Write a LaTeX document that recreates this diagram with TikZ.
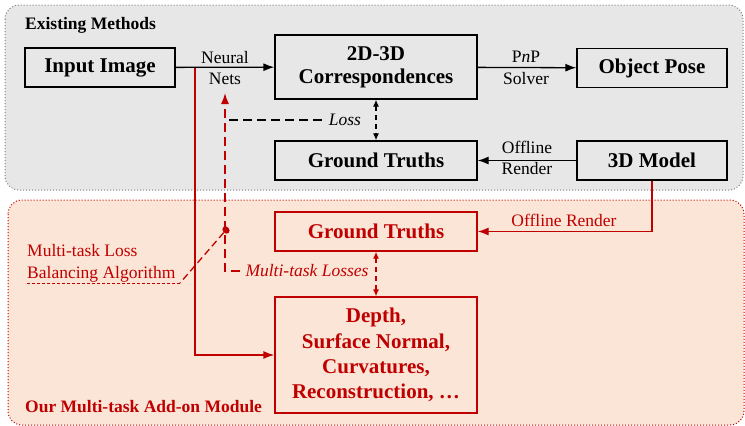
\documentclass[tikz,border=0pt]{standalone}
\usepackage{fontspec}
\setmainfont{Liberation Serif}
\usetikzlibrary{arrows.meta,calc,shapes.geometric}
\definecolor{myred}{HTML}{C00000}
\definecolor{panelgray}{HTML}{E7E7E7}
\definecolor{panelpeach}{HTML}{FBE5D6}
\tikzset{
  box/.style={draw, line width=1.3pt, minimum width=150pt, minimum height=39pt, inner sep=0pt,
    font=\fontsize{21}{23}\selectfont\bfseries, align=center},
  wbox/.style={box, minimum width=202pt},
  rbox/.style={wbox, draw=myred, text=myred},
  lbl/.style={font=\fontsize{17.5}{21.5}\selectfont, align=center, inner sep=0pt},
  arr/.style={-{Latex[length=11pt,width=8pt]}, line width=1.3pt},
  darr/.style={{Latex[length=7pt,width=6pt]}-{Latex[length=7pt,width=6pt]}, line width=1.3pt, dash pattern=on 5pt off 4pt},
  dsh/.style={line width=1.3pt, dash pattern=on 9pt off 5pt},
  panel/.style={rounded corners=14pt, line width=1pt, dotted},
}
\begin{document}
\begin{tikzpicture}[x=1pt,y=-1pt]
\useasboundingbox (0,0) rectangle (745,426);
% panels
\draw[panel, fill=panelgray, draw=gray] (5,5) rectangle (743,190);
\draw[panel, fill=panelpeach, draw=myred] (8,200) rectangle (744,425);
\node[anchor=west, font=\fontsize{17.5}{21}\selectfont\bfseries, inner sep=0pt] (t1) at (25,25) {Existing Methods};
\node[anchor=west, font=\fontsize{17.5}{21}\selectfont\bfseries, inner sep=0pt, text=myred] (t2) at (25,407) {Our Multi-task Add-on Module};
% top boxes
\node[box] (inp) at (100,67.5) {Input Image};
\node[wbox, minimum height=64pt] (corr) at (376,67) {2D-3D\\Correspondences};
\node[box] (pose) at (652,68) {Object Pose};
\node[wbox] (gt1) at (376,160.5) {Ground Truths};
\node[box] (model) at (652,160.5) {3D Model};
% bottom boxes
\node[rbox] (gt2) at (376,231.5) {Ground Truths};
\node[rbox, minimum height=116pt, font=\fontsize{21}{25.3}\selectfont\bfseries] (depth) at (376,355) {Depth,\\Surface Normal,\\Curvatures,\\Reconstruction, …};
% labels
\node[lbl] (nn) at (225,68) {Neural\\Nets};
\node[lbl] (pnp) at (526,68) {P\textit{n}P\\Solver};
\node[lbl] (off1) at (527,158) {Offline\\Render};
\node[lbl, font=\fontsize{17.5}{21.5}\selectfont\itshape] (loss) at (345,120) {Loss};
\node[lbl, text=myred] (off2) at (564,220) {Offline Render};
\node[lbl, text=myred, font=\fontsize{17.5}{21.5}\selectfont\itshape] (losses) at (307,271) {Multi-task Losses};
\node[lbl, text=myred, align=left, anchor=west] (bal) at (27,263.5) {Multi-task Loss\\Balancing Algorithm};
% coordinates
\coordinate (j) at (195,68);
\coordinate (lcorner) at (225,271);
\coordinate (nntip) at (225,93);
\coordinate (ul0) at (25,283);
\coordinate (ul1) at (180,283);
\node[ellipse, fill=myred, minimum width=8pt, minimum height=6.5pt, inner sep=0pt, rotate=-50] (dot) at (226,230) {};
% black connectors
\draw[arr] (inp) -- (corr);
\draw[arr] (corr) -- (pose);
\draw[arr] (model) -- (gt1);
\draw[darr] (corr) -- (gt1);
\draw[dsh] ([xshift=-7pt]loss.west) -- (loss.west -| lcorner);
% red connectors
\draw[myred, arr] (j) |- (depth.west);
\draw[myred, arr] (model.south) |- (gt2.east);
\draw[myred, darr] (gt2) -- (depth);
\draw[myred, dsh, -{Latex[length=11pt,width=8pt]}] ([xshift=-5pt]losses.west) -- (lcorner) -- (nntip);
\draw[myred, dsh, dash pattern=on 7pt off 4pt] (dot) -- (ul1);
\draw[myred, line width=0.8pt, dash pattern=on 3pt off 2pt] (ul1) -- (ul0);
\end{tikzpicture}
\end{document}
